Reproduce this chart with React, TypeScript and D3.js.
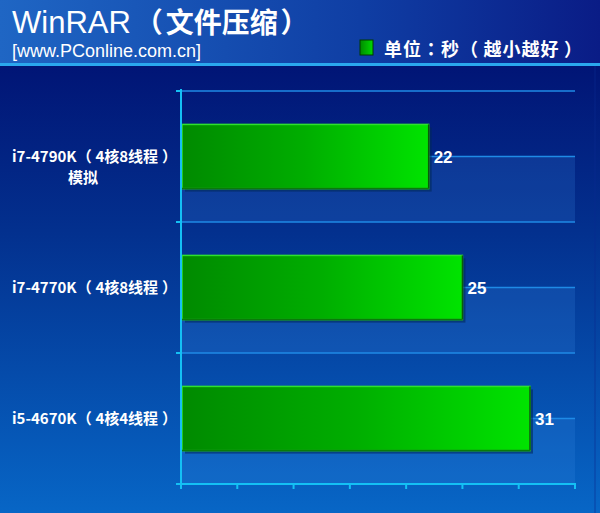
import React from "react";
import * as d3 from "d3";

const categories = ["i7-4790K（4核8线程）", "i7-4770K（4核8线程）", "i5-4670K（4核4线程）"];
const subLabels = ["模拟", "", ""];
const values = [22, 25, 31];
const xTicks = [0, 5, 10, 15, 20, 25, 30, 35];

const W = 600;
const H = 513;
const FONT = "'Liberation Sans', Arial, 'Noto Sans CJK SC', sans-serif";
const CJK = "'Noto Sans CJK SC', sans-serif";
const CJKP = "'Noto Sans CJK TC', 'Noto Sans CJK SC', sans-serif";

// render a string, adding space around fullwidth parentheses (only positive shifts)
function cjkSpans(s: string, fs: number, shift = 0.25, pre = 0) {
  const parts: React.ReactNode[] = [];
  let buf = "";
  let k = 0;
  let pending = 0;
  const flush = () => {
    if (buf) {
      parts.push(
        <tspan key={k++} dx={pending || undefined}>
          {buf}
        </tspan>
      );
      pending = 0;
    }
    buf = "";
  };
  for (const ch of s) {
    if (ch === "（" || ch === "）" || ch === "：") {
      flush();
      const d = ch === "）" ? shift * fs : ch === "（" ? pre : 0;
      parts.push(
        <tspan key={k++} dx={pending + d || undefined} fontFamily={ch === "：" ? CJKP : undefined}>
          {ch}
        </tspan>
      );
      pending = ch === "（" ? shift * fs : 0;
    } else buf += ch;
  }
  flush();
  return parts;
}

export default function App() {
  const x = d3.scaleLinear().domain([0, 35]).range([181, 575]);
  const y = d3.scaleBand<string>().domain(categories).range([91, 484]).paddingInner(0).paddingOuter(0);
  const bw = y.bandwidth();
  const barH = bw * 0.49;
  const boundaries = [...categories.map((c) => y(c)!), 484];

  return (
    <svg width={W} height={H} style={{ position: "absolute", left: 0, top: 0 }} fontFamily={FONT}>
      <defs>
        <linearGradient id="hdr" x1="0" y1="0" x2="1" y2="0">
          <stop offset="0" stopColor="#1f66c4" />
          <stop offset="0.6" stopColor="#0f3ea4" />
          <stop offset="1" stopColor="#0a1c86" />
        </linearGradient>
        <linearGradient id="bg" x1="0" y1="0" x2="0" y2="1">
          <stop offset="0" stopColor="#000a6c" />
          <stop offset="0.45" stopColor="#03308e" />
          <stop offset="1" stopColor="#0766c6" />
        </linearGradient>
        <linearGradient id="bar" x1="0" y1="0" x2="1" y2="0">
          <stop offset="0" stopColor="#008a00" />
          <stop offset="0.5" stopColor="#00ae00" />
          <stop offset="1" stopColor="#00e400" />
        </linearGradient>
        <linearGradient id="leg" x1="0" y1="0" x2="1" y2="0">
          <stop offset="0" stopColor="#008a00" />
          <stop offset="1" stopColor="#00d800" />
        </linearGradient>
      </defs>
      <rect x={0} y={0} width={W} height={H} fill="url(#bg)" />
      <rect x={0} y={0} width={W} height={64} fill="url(#hdr)" />
      <rect x={0} y={63} width={W} height={3} fill="#2aa8ee" />
      <line x1={595} x2={595} y1={66} y2={H} stroke="#0a2a90" strokeWidth={1} opacity={0.6} />

      <text x={12} y={33} fill="#fff" fontSize={31}>
        WinRAR
        <tspan fontWeight="bold" fontFamily={CJK} fontSize={28}>
          {cjkSpans("（文件压缩）", 28, 0.1, 4)}
        </tspan>
      </text>
      <text x={12} y={57} fill="#fff" fontSize={18}>[www.PConline.com.cn]</text>
      <rect x={360} y={40} width={13} height={15} fill="url(#leg)" stroke="#003a00" strokeWidth={1} />
      <text x={384} y={56} fill="#fff" fontSize={18} fontWeight="bold" fontFamily={CJK} letterSpacing={1}>
        {cjkSpans("单位：秒（越小越好）", 18)}
      </text>

      {/* alternating wall bands */}
      {categories.map((c) => (
        <rect key={"band" + c} x={x(0)} y={y(c)! + bw / 2} width={x(35) - x(0)} height={bw / 2} fill="#3a8ae8" opacity={0.2} />
      ))}
      {/* gridlines */}
      {categories.map((c) => (
        <g key={"gl" + c}>
          <line x1={x(0)} x2={x(35)} y1={y(c)!} y2={y(c)!} stroke="#1f8ae6" strokeWidth={1.5} />
          <line x1={x(0)} x2={x(35)} y1={y(c)! + bw / 2} y2={y(c)! + bw / 2} stroke="#1f8ae6" strokeWidth={1.5} />
        </g>
      ))}

      {/* bars */}
      {categories.map((c, i) => {
        const by = y(c)! + (bw - barH) / 2;
        const bx = x(0) + 1;
        const w = x(values[i]) - x(0) - 1;
        return (
          <g key={"bar" + c}>
            <rect x={bx + 3} y={by + 3} width={w} height={barH} fill="#022a5a" opacity={0.6} />
            <rect x={bx} y={by} width={w} height={barH} fill="url(#bar)" stroke="#2ee02e" strokeWidth={1.5} />
            <line x1={bx + w} x2={bx + w} y1={by} y2={by + barH} stroke="#0a5a0a" strokeWidth={1.5} />
            <line x1={bx} x2={bx + w} y1={by + barH} y2={by + barH} stroke="#0a7a0a" strokeWidth={1.5} />
            <text x={x(values[i]) + 5} y={y(c)! + bw / 2 + 6} fill="#fff" fontSize={17} fontWeight="bold">
              {values[i]}
            </text>
          </g>
        );
      })}

      {/* y axis */}
      <line x1={x(0)} x2={x(0)} y1={89} y2={486} stroke="#14c0f4" strokeWidth={2} />
      {boundaries.map((b, i) => (
        <line key={"yt" + i} x1={x(0) - 5} x2={x(0)} y1={b} y2={b} stroke="#14c0f4" strokeWidth={2} />
      ))}
      {/* x axis */}
      <line x1={x(0) - 5} x2={x(35) + 1} y1={484} y2={484} stroke="#14c0f4" strokeWidth={2} />
      {xTicks.map((t) => (
        <line key={"xt" + t} x1={x(t)} x2={x(t)} y1={484} y2={489} stroke="#14c0f4" strokeWidth={2} />
      ))}

      {/* category labels */}
      {categories.map((c, i) => (
        <g key={"lab" + c}>
          <text x={12} y={y(c)! + bw / 2 + 5} fill="#fff" fontSize={15} fontWeight="bold" fontFamily={CJK}>
            {cjkSpans(c, 15, 0.25)}
          </text>
          {subLabels[i] && (
            <text x={83} y={y(c)! + bw / 2 + 26} fill="#fff" fontSize={15} fontWeight="bold" textAnchor="middle" fontFamily={CJK}>
              {subLabels[i]}
            </text>
          )}
        </g>
      ))}
    </svg>
  );
}
